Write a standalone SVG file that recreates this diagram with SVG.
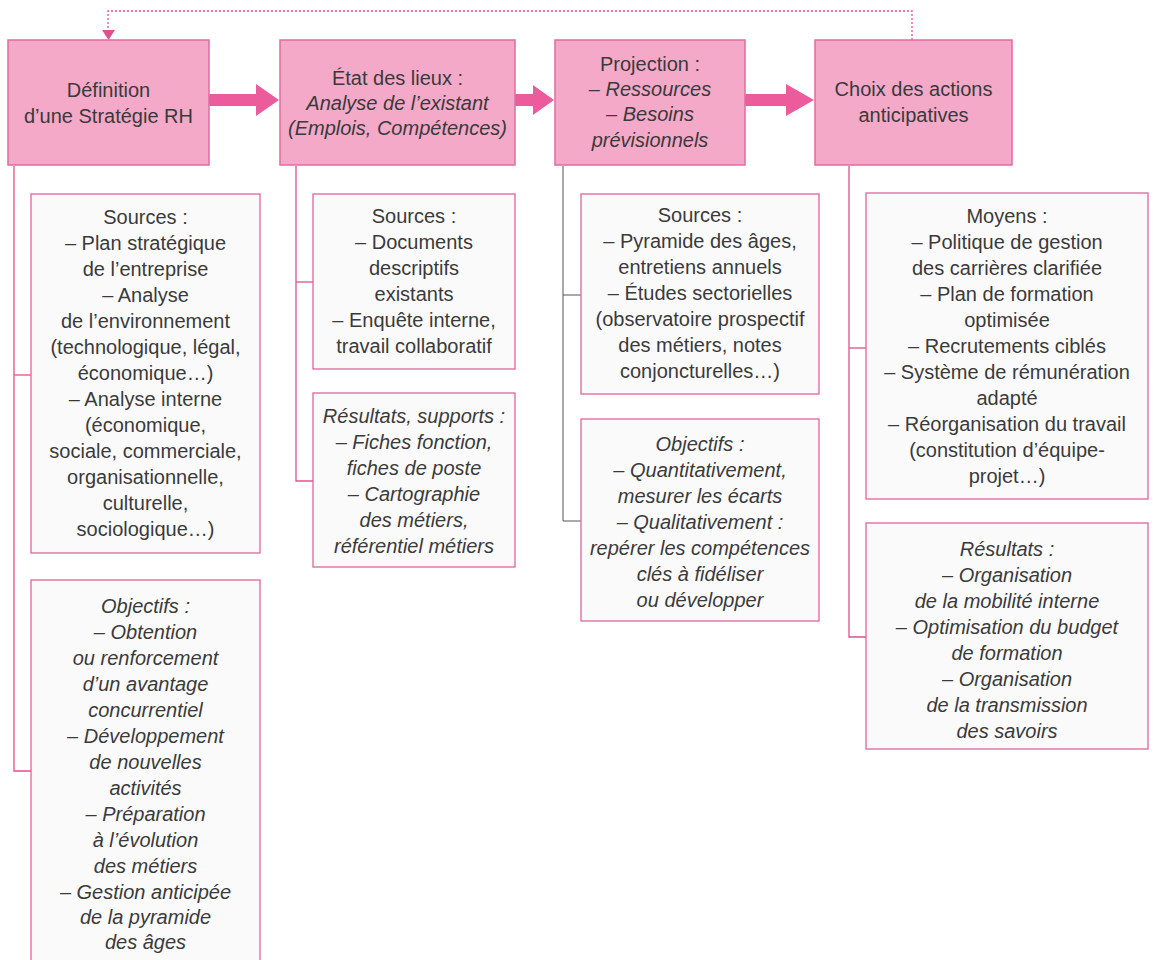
<svg xmlns="http://www.w3.org/2000/svg" width="1153" height="960" viewBox="0 0 1153 960">
<style>
text{font-family:"Liberation Sans",Arial,sans-serif;font-size:20px;fill:#3a3a3a;text-anchor:middle}
.i{font-style:italic}
.hd{fill:#f4a9c9;stroke:#e46aa0;stroke-width:1.5}
.bx{fill:#fbfafa;stroke:#e0649c;stroke-width:1.3}
.ln{fill:none;stroke:#e0508f;stroke-width:1.3}
.lg{fill:none;stroke:#555;stroke-width:1}
.ar{fill:#ec5b9c}
</style>
<rect width="1153" height="960" fill="#ffffff"/>
<g id="connectors">
<polyline points="912,40 912,11 108,11 108,31" fill="none" stroke="#e0508f" stroke-width="1.3" stroke-dasharray="2,2"/>
<polygon points="102,30 115,30 108.5,40" fill="#e0508f"/>
<polygon class="ar" points="209,94 256,94 256,84 279,100 256,116 256,106 209,106"/>
<polygon class="ar" points="515,94 533,94 533,85 554,100 533,115 533,106 515,106"/>
<polygon class="ar" points="745,94 786,94 786,84 814,100 786,116 786,106 745,106"/>
<polyline class="ln" points="14,166 14,771 31,771"/>
<line class="ln" x1="14" y1="375" x2="31" y2="375"/>
<polyline class="ln" points="296,166 296,481 313,481"/>
<line class="ln" x1="296" y1="282" x2="313" y2="282"/>
<polyline class="lg" points="563,166 563,521 581,521"/>
<line class="lg" x1="563" y1="295" x2="581" y2="295"/>
<polyline class="ln" points="849,166 849,637 866,637"/>
<line class="ln" x1="849" y1="348" x2="866" y2="348"/>
</g>
<g id="h1"><rect class="hd" x="8" y="40" width="201" height="125"/>
<text x="108.5" y="97">Définition</text><text x="108.5" y="123">d’une Stratégie RH</text></g>
<g id="h2"><rect class="hd" x="280" y="40" width="235" height="125"/>
<text x="397.5" y="85">État des lieux :</text><text class="i" x="397.5" y="110">Analyse de l’existant</text><text class="i" x="397.5" y="135">(Emplois, Compétences)</text></g>
<g id="h3"><rect class="hd" x="555" y="40" width="190" height="125"/>
<text x="650" y="71">Projection :</text><text class="i" x="650" y="96">– Ressources</text><text class="i" x="650" y="121">– Besoins</text><text class="i" x="650" y="147">prévisionnels</text></g>
<g id="h4"><rect class="hd" x="815" y="40" width="197" height="125"/>
<text x="913.5" y="96">Choix des actions</text><text x="913.5" y="122">anticipatives</text></g>
<g id="b1"><rect class="bx" x="31" y="194" width="229" height="359"/>
<text x="145.5" y="224">Sources :</text><text x="145.5" y="250">– Plan stratégique</text><text x="145.5" y="276">de l’entreprise</text><text x="145.5" y="302">– Analyse</text><text x="145.5" y="328">de l’environnement</text><text x="145.5" y="354">(technologique, légal,</text><text x="145.5" y="380">économique…)</text><text x="145.5" y="406">– Analyse interne</text><text x="145.5" y="432">(économique,</text><text x="145.5" y="458">sociale, commerciale,</text><text x="145.5" y="484">organisationnelle,</text><text x="145.5" y="510">culturelle,</text><text x="145.5" y="536">sociologique…)</text></g>
<g id="b2"><rect class="bx" x="31" y="580" width="229" height="390"/>
<text class="i" x="145.5" y="613">Objectifs :</text><text class="i" x="145.5" y="639">– Obtention</text><text class="i" x="145.5" y="665">ou renforcement</text><text class="i" x="145.5" y="691">d’un avantage</text><text class="i" x="145.5" y="717">concurrentiel</text><text class="i" x="145.5" y="743">– Développement</text><text class="i" x="145.5" y="769">de nouvelles</text><text class="i" x="145.5" y="795">activités</text><text class="i" x="145.5" y="821">– Préparation</text><text class="i" x="145.5" y="847">à l’évolution</text><text class="i" x="145.5" y="873">des métiers</text><text class="i" x="145.5" y="899">– Gestion anticipée</text><text class="i" x="145.5" y="924">de la pyramide</text><text class="i" x="145.5" y="949">des âges</text></g>
<g id="b3"><rect class="bx" x="313" y="194" width="202" height="175"/>
<text x="414" y="223">Sources :</text><text x="414" y="249">– Documents</text><text x="414" y="275">descriptifs</text><text x="414" y="301">existants</text><text x="414" y="327">– Enquête interne,</text><text x="414" y="353">travail collaboratif</text></g>
<g id="b4"><rect class="bx" x="313" y="393" width="202" height="174"/>
<text class="i" x="414" y="423">Résultats, supports :</text><text class="i" x="414" y="449">– Fiches fonction,</text><text class="i" x="414" y="475">fiches de poste</text><text class="i" x="414" y="501">– Cartographie</text><text class="i" x="414" y="527">des métiers,</text><text class="i" x="414" y="553">référentiel métiers</text></g>
<g id="b5"><rect class="bx" x="581" y="194" width="238" height="200"/>
<text x="700" y="222">Sources :</text><text x="700" y="248">– Pyramide des âges,</text><text x="700" y="274">entretiens annuels</text><text x="700" y="300">– Études sectorielles</text><text x="700" y="326">(observatoire prospectif</text><text x="700" y="352">des métiers, notes</text><text x="700" y="378">conjoncturelles…)</text></g>
<g id="b6"><rect class="bx" x="581" y="419" width="238" height="202"/>
<text class="i" x="700" y="451">Objectifs :</text><text class="i" x="700" y="477">– Quantitativement,</text><text class="i" x="700" y="503">mesurer les écarts</text><text class="i" x="700" y="529">– Qualitativement :</text><text class="i" x="700" y="555">repérer les compétences</text><text class="i" x="700" y="581">clés à fidéliser</text><text class="i" x="700" y="607">ou développer</text></g>
<g id="b7"><rect class="bx" x="866" y="193" width="282" height="306"/>
<text x="1007" y="223">Moyens :</text><text x="1007" y="249">– Politique de gestion</text><text x="1007" y="275">des carrières clarifiée</text><text x="1007" y="301">– Plan de formation</text><text x="1007" y="327">optimisée</text><text x="1007" y="353">– Recrutements ciblés</text><text x="1007" y="379">– Système de rémunération</text><text x="1007" y="405">adapté</text><text x="1007" y="431">– Réorganisation du travail</text><text x="1007" y="457">(constitution d’équipe-</text><text x="1007" y="483">projet…)</text></g>
<g id="b8"><rect class="bx" x="866" y="523" width="282" height="226"/>
<text class="i" x="1007" y="556">Résultats :</text><text class="i" x="1007" y="582">– Organisation</text><text class="i" x="1007" y="608">de la mobilité interne</text><text class="i" x="1007" y="634">– Optimisation du budget</text><text class="i" x="1007" y="660">de formation</text><text class="i" x="1007" y="686">– Organisation</text><text class="i" x="1007" y="712">de la transmission</text><text class="i" x="1007" y="738">des savoirs</text></g>
</svg>
